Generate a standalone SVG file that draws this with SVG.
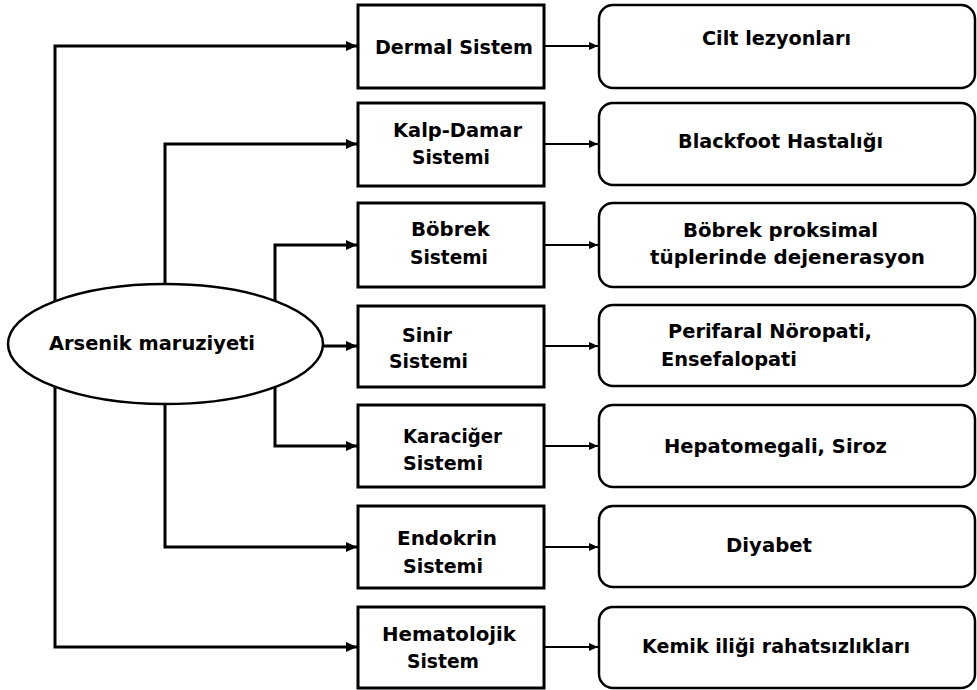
<svg xmlns="http://www.w3.org/2000/svg" width="977" height="690" viewBox="0 0 977 690">
<style>
text{font-family:"DejaVu Sans","Liberation Sans",sans-serif;font-weight:bold;font-size:19px;fill:#000}
.sys{fill:#fff;stroke:#000;stroke-width:3}
.eff{fill:#fff;stroke:#000;stroke-width:2.5}
.trunk{fill:none;stroke:#000;stroke-width:3;marker-end:url(#ah)}
.thin{fill:none;stroke:#000;stroke-width:2;marker-end:url(#ah2)}
</style>
<defs>
<marker id="ah" markerUnits="userSpaceOnUse" viewBox="0 0 11 10" refX="11" refY="5" markerWidth="11" markerHeight="10" orient="auto"><path d="M0,0 L11,5 L0,10 z" fill="#000"/></marker>
<marker id="ah2" markerUnits="userSpaceOnUse" viewBox="0 0 9 8" refX="9" refY="4" markerWidth="9" markerHeight="8" orient="auto"><path d="M0,0 L9,4 L0,8 z" fill="#000"/></marker>
</defs>
<rect width="977" height="690" fill="#fff"/>
<g id="connectors">
<path class="trunk" d="M55,344 V46 H357"/>
<path class="trunk" d="M165,344 V144 H357"/>
<path class="trunk" d="M275,344 V245 H357"/>
<path class="trunk" d="M300,346 H357"/>
<path class="trunk" d="M275,344 V446 H357"/>
<path class="trunk" d="M165,344 V547 H357"/>
<path class="trunk" d="M55,344 V647 H357"/>
<path class="thin" d="M545,46 H598"/>
<path class="thin" d="M545,144 H598"/>
<path class="thin" d="M545,245 H598"/>
<path class="thin" d="M545,346 H598"/>
<path class="thin" d="M545,446 H598"/>
<path class="thin" d="M545,547 H598"/>
<path class="thin" d="M545,647 H598"/>
</g>
<g id="arsenik">
<ellipse cx="165.5" cy="344" rx="157.5" ry="60" fill="#fff" stroke="#000" stroke-width="2.5"/>
<text x="49" y="350" textLength="206" lengthAdjust="spacingAndGlyphs">Arsenik maruziyeti</text>
</g>
<g id="dermal">
<rect class="sys" x="358" y="5" width="186" height="83"/>
<text x="375" y="54" textLength="158" lengthAdjust="spacingAndGlyphs">Dermal Sistem</text>
</g>
<g id="kalp">
<rect class="sys" x="358" y="103" width="186" height="83"/>
<text x="393" y="137" textLength="129" lengthAdjust="spacingAndGlyphs">Kalp-Damar</text>
<text x="412" y="164" textLength="78" lengthAdjust="spacingAndGlyphs">Sistemi</text>
</g>
<g id="bobrek">
<rect class="sys" x="358" y="203" width="186" height="84"/>
<text x="411" y="236" textLength="79" lengthAdjust="spacingAndGlyphs">Böbrek</text>
<text x="410" y="264" textLength="78" lengthAdjust="spacingAndGlyphs">Sistemi</text>
</g>
<g id="sinir">
<rect class="sys" x="358" y="306" width="186" height="81"/>
<text x="402" y="342" textLength="50" lengthAdjust="spacingAndGlyphs">Sinir</text>
<text x="389" y="368" textLength="79" lengthAdjust="spacingAndGlyphs">Sistemi</text>
</g>
<g id="karaciger">
<rect class="sys" x="358" y="405" width="186" height="82"/>
<text x="403" y="443" textLength="99" lengthAdjust="spacingAndGlyphs">Karaciğer</text>
<text x="403" y="470" textLength="80" lengthAdjust="spacingAndGlyphs">Sistemi</text>
</g>
<g id="endokrin">
<rect class="sys" x="358" y="506" width="186" height="82"/>
<text x="397" y="545" textLength="100" lengthAdjust="spacingAndGlyphs">Endokrin</text>
<text x="403" y="573" textLength="80" lengthAdjust="spacingAndGlyphs">Sistemi</text>
</g>
<g id="hematolojik">
<rect class="sys" x="358" y="607" width="186" height="81"/>
<text x="382" y="641" textLength="134" lengthAdjust="spacingAndGlyphs">Hematolojik</text>
<text x="407" y="668" textLength="72" lengthAdjust="spacingAndGlyphs">Sistem</text>
</g>
<g id="cilt">
<rect class="eff" x="599" y="5" width="376" height="83" rx="14"/>
<text x="702" y="45" textLength="149" lengthAdjust="spacingAndGlyphs">Cilt lezyonları</text>
</g>
<g id="blackfoot">
<rect class="eff" x="599" y="103" width="376" height="82" rx="14"/>
<text x="678" y="148" textLength="205" lengthAdjust="spacingAndGlyphs">Blackfoot Hastalığı</text>
</g>
<g id="tubuler">
<rect class="eff" x="599" y="203" width="376" height="84" rx="14"/>
<text x="683" y="237" textLength="195" lengthAdjust="spacingAndGlyphs">Böbrek proksimal</text>
<text x="650" y="264" textLength="275" lengthAdjust="spacingAndGlyphs">tüplerinde dejenerasyon</text>
</g>
<g id="noropati">
<rect class="eff" x="599" y="305" width="376" height="81" rx="14"/>
<text x="668" y="338" textLength="204" lengthAdjust="spacingAndGlyphs">Perifaral Nöropati,</text>
<text x="661" y="366" textLength="136" lengthAdjust="spacingAndGlyphs">Ensefalopati</text>
</g>
<g id="hepato">
<rect class="eff" x="599" y="405" width="376" height="82" rx="14"/>
<text x="664" y="453" textLength="223" lengthAdjust="spacingAndGlyphs">Hepatomegali, Siroz</text>
</g>
<g id="diyabet">
<rect class="eff" x="599" y="506" width="376" height="81" rx="14"/>
<text x="726" y="552" textLength="86" lengthAdjust="spacingAndGlyphs">Diyabet</text>
</g>
<g id="kemik">
<rect class="eff" x="599" y="607" width="376" height="81" rx="14"/>
<text x="642" y="653" textLength="268" lengthAdjust="spacingAndGlyphs">Kemik iliği rahatsızlıkları</text>
</g>
</svg>
